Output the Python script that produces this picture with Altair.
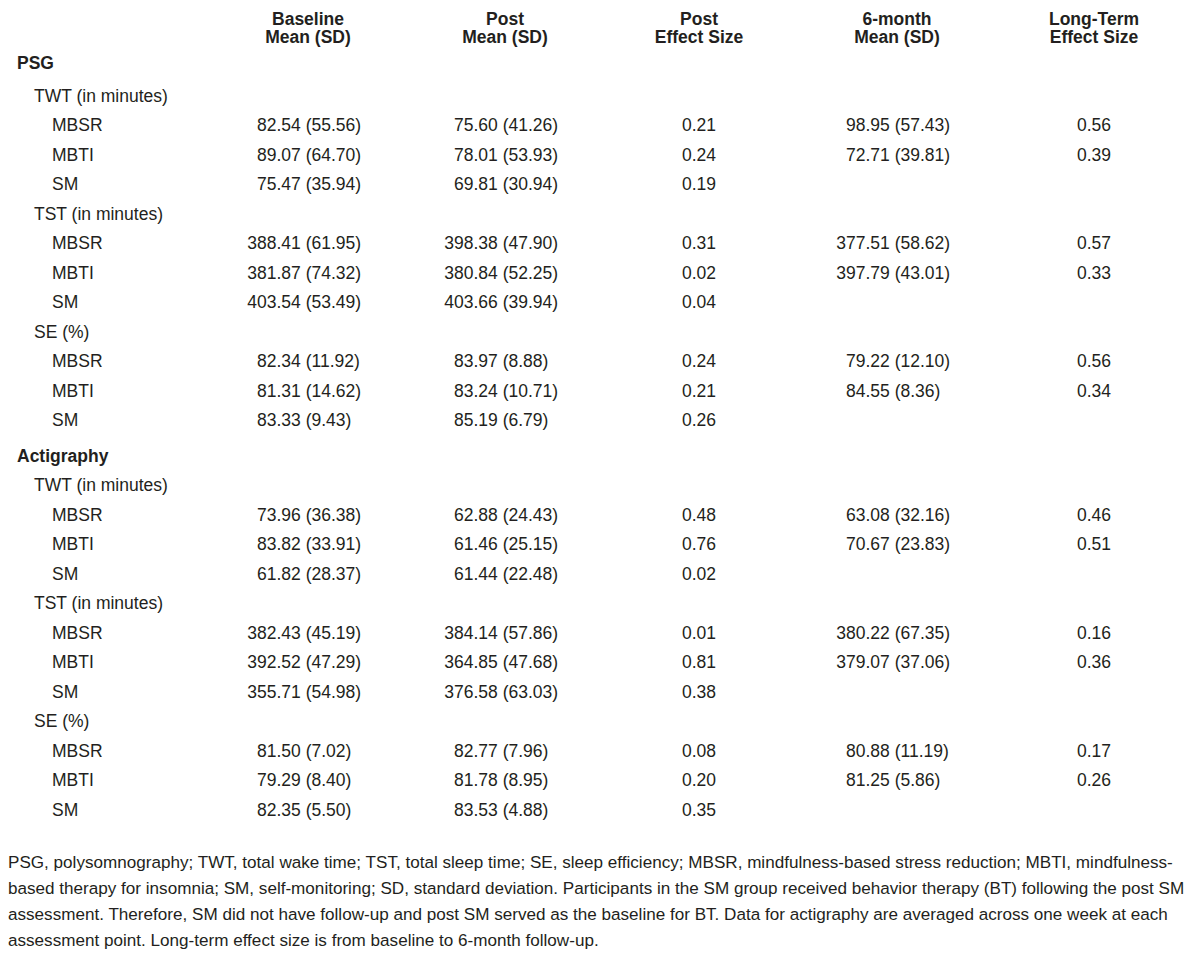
import altair as alt
import pandas as pd

sections = ["PSG", "Actigraphy"]
measures = ["TWT (in minutes)", "TST (in minutes)", "SE (%)"]
groups = ["MBSR", "MBTI", "SM"]

col_head_1 = ["Baseline", "Post", "Post", "6-month", "Long-Term"]
col_head_2 = ["Mean (SD)", "Mean (SD)", "Effect Size", "Mean (SD)", "Effect Size"]

baseline_mean = [82.54, 89.07, 75.47, 388.41, 381.87, 403.54, 82.34, 81.31, 83.33,
                 73.96, 83.82, 61.82, 382.43, 392.52, 355.71, 81.50, 79.29, 82.35]
baseline_sd = [55.56, 64.70, 35.94, 61.95, 74.32, 53.49, 11.92, 14.62, 9.43,
               36.38, 33.91, 28.37, 45.19, 47.29, 54.98, 7.02, 8.40, 5.50]
post_mean = [75.60, 78.01, 69.81, 398.38, 380.84, 403.66, 83.97, 83.24, 85.19,
             62.88, 61.46, 61.44, 384.14, 364.85, 376.58, 82.77, 81.78, 83.53]
post_sd = [41.26, 53.93, 30.94, 47.90, 52.25, 39.94, 8.88, 10.71, 6.79,
           24.43, 25.15, 22.48, 57.86, 47.68, 63.03, 7.96, 8.95, 4.88]
post_es = [0.21, 0.24, 0.19, 0.31, 0.02, 0.04, 0.24, 0.21, 0.26,
           0.48, 0.76, 0.02, 0.01, 0.81, 0.38, 0.08, 0.20, 0.35]
m6_mean = [98.95, 72.71, None, 377.51, 397.79, None, 79.22, 84.55, None,
           63.08, 70.67, None, 380.22, 379.07, None, 80.88, 81.25, None]
m6_sd = [57.43, 39.81, None, 58.62, 43.01, None, 12.10, 8.36, None,
         32.16, 23.83, None, 67.35, 37.06, None, 11.19, 5.86, None]
lt_es = [0.56, 0.39, None, 0.57, 0.33, None, 0.56, 0.34, None,
         0.46, 0.51, None, 0.16, 0.36, None, 0.17, 0.26, None]

footnote = [
    "PSG, polysomnography; TWT, total wake time; TST, total sleep time; SE, sleep efficiency; MBSR, mindfulness-based stress reduction; MBTI, mindfulness-",
    "based therapy for insomnia; SM, self-monitoring; SD, standard deviation. Participants in the SM group received behavior therapy (BT) following the post SM",
    "assessment. Therefore, SM did not have follow-up and post SM served as the baseline for BT. Data for actigraphy are averaged across one week at each",
    "assessment point. Long-term effect size is from baseline to 6-month follow-up.",
]

# ---------------- layout (pixels inside the chart) ----------------
W, H = 1184, 940
OFF = 8
FONT = "Liberation Sans"
SIZE = 17.5
FOOT_SIZE = 17.1
ROW = 29.5
SECTION_GAP = 6
FIRST_GAP = 3
INK = "#231f20"
indent = [17 - OFF, 34 - OFF, 52 - OFF]
head_center = [308 - OFF, 505 - OFF, 699 - OFF, 897 - OFF, 1094 - OFF]
dec_x = {"base": 276.5 - OFF, "post": 473.5 - OFF, "m6": 865.5 - OFF}
es_center = {"pes": 699 - OFF, "lt": 1094 - OFF}
head_y = [24.5 - OFF, 42.5 - OFF]
first_row_y = 69 - OFF
foot_y0 = 868 - OFF
foot_step = 26


def fmt(m, s):
    return f"{m:.2f} ({s:.2f})"


label_rows = []
cell_rows = []
y = first_row_y
k = 0
for si, sec in enumerate(sections):
    if si > 0:
        y += ROW + SECTION_GAP
    label_rows.append({"text": sec, "level": 0, "y": y})
    if si == 0:
        y += FIRST_GAP
    for meas in measures:
        y += ROW
        label_rows.append({"text": meas, "level": 1, "y": y})
        for g in groups:
            y += ROW
            label_rows.append({"text": g, "level": 2, "y": y})
            pairs = [("base", baseline_mean[k], baseline_sd[k]),
                     ("post", post_mean[k], post_sd[k]),
                     ("m6", m6_mean[k], m6_sd[k])]
            for col, m, s in pairs:
                if m is None:
                    continue
                txt = fmt(m, s)
                ip, rest = txt.split(".", 1)
                cell_rows.append({"col": col, "int": ip, "rest": "." + rest, "y": y})
            for col, v in (("pes", post_es[k]), ("lt", lt_es[k])):
                if v is None:
                    continue
                cell_rows.append({"col": col, "es": f"{v:.2f}", "y": y})
            k += 1

labels = pd.DataFrame(label_rows)
cells = pd.DataFrame(cell_rows)
heads = pd.DataFrame({"h1": col_head_1, "h2": col_head_2, "i": list(range(5))})
foot = pd.DataFrame({"text": footnote, "line": list(range(len(footnote)))})
foot["y"] = foot_y0 + foot["line"] * foot_step

yscale = alt.Scale(domain=[0, H], range=[0, H], nice=False, zero=False)
Y = alt.Y("y:Q", scale=yscale, axis=None)

layers = []
for lvl in range(3):
    layers.append(
        alt.Chart(labels[labels["level"] == lvl]).mark_text(
            align="left", baseline="alphabetic", font=FONT, fontSize=SIZE,
            fontWeight="bold" if lvl == 0 else "normal", color=INK
        ).encode(x=alt.value(indent[lvl]), y=Y, text="text:N")
    )

for col, xd in dec_x.items():
    sub = cells[cells["col"] == col]
    layers.append(
        alt.Chart(sub).mark_text(align="right", baseline="alphabetic", font=FONT,
                                 fontSize=SIZE, color=INK)
        .encode(x=alt.value(xd), y=Y, text="int:N"))
    layers.append(
        alt.Chart(sub).mark_text(align="left", baseline="alphabetic", font=FONT,
                                 fontSize=SIZE, color=INK)
        .encode(x=alt.value(xd), y=Y, text="rest:N"))

for col, xc in es_center.items():
    sub = cells[cells["col"] == col]
    layers.append(
        alt.Chart(sub).mark_text(align="center", baseline="alphabetic", font=FONT,
                                 fontSize=SIZE, color=INK)
        .encode(x=alt.value(xc), y=Y, text="es:N"))

for i in range(5):
    hsub = heads[heads["i"] == i]
    for j, field in enumerate(["h1", "h2"]):
        layers.append(
            alt.Chart(hsub).mark_text(align="center", baseline="alphabetic", font=FONT,
                                      fontSize=SIZE, fontWeight="bold", color=INK)
            .encode(x=alt.value(head_center[i]), y=alt.value(head_y[j]), text=f"{field}:N"))

layers.append(
    alt.Chart(foot).mark_text(align="left", baseline="alphabetic", font=FONT,
                              fontSize=FOOT_SIZE, color=INK)
    .encode(x=alt.value(0), y=Y, text="text:N"))

chart = alt.layer(*layers).properties(
    width=W, height=H, padding=0
).configure_view(stroke=None)

chart.save("out.html", embed_options={"renderer": "svg", "actions": False})
